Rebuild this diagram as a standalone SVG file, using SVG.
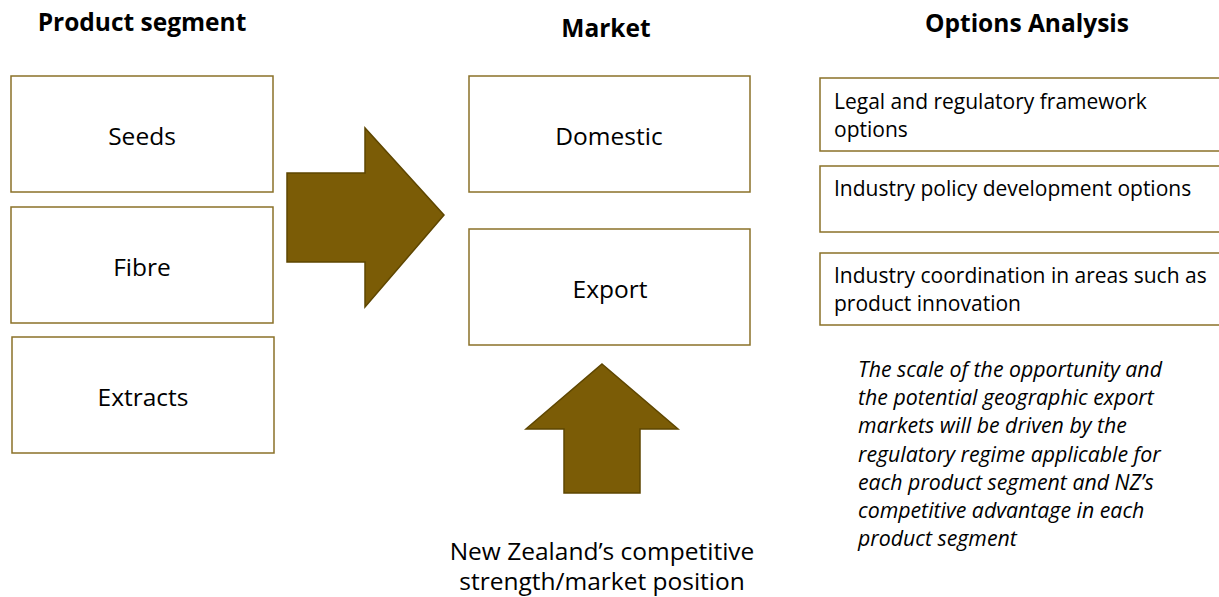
<svg xmlns="http://www.w3.org/2000/svg" width="1219" height="597" viewBox="0 0 1219 597">
<style>
.box{fill:#fff;stroke:#8B7128;stroke-width:1.5}
.arrow{fill:#7B5C06;stroke:#5E4600;stroke-width:1.5}
.t{font-family:"Open Sans","Noto Sans",sans-serif;fill:#000}
.title{font-size:24.5px;font-weight:bold;text-anchor:middle}
.lbl{font-size:24.5px;text-anchor:middle}
.opt{font-size:21px}
.note{font-size:21.3px;font-style:italic}
</style>
<rect width="1219" height="597" fill="#fff"/>
<g id="titles" class="t">
<text class="title" x="142" y="31">Product segment</text>
<text class="title" x="606" y="37">Market</text>
<text class="title" x="1027" y="32">Options Analysis</text>
</g>
<g id="seeds"><rect class="box" x="11" y="76" width="262" height="116"/><text class="t lbl" x="142" y="145">Seeds</text></g>
<g id="fibre"><rect class="box" x="11" y="207" width="262" height="116"/><text class="t lbl" x="142" y="276">Fibre</text></g>
<g id="extracts"><rect class="box" x="12" y="337" width="262" height="116"/><text class="t lbl" x="143" y="406">Extracts</text></g>
<g id="domestic"><rect class="box" x="469" y="76" width="281" height="116"/><text class="t lbl" x="609" y="145">Domestic</text></g>
<g id="export"><rect class="box" x="469" y="229" width="281" height="116"/><text class="t lbl" x="610" y="298">Export</text></g>
<g id="opt-legal"><rect class="box" x="820" y="78" width="410" height="73"/><text class="t opt" x="834" y="109">Legal and regulatory framework</text><text class="t opt" x="834" y="137">options</text></g>
<g id="opt-policy"><rect class="box" x="820" y="166" width="410" height="66"/><text class="t opt" x="834" y="196">Industry policy development options</text></g>
<g id="opt-coord"><rect class="box" x="820" y="253" width="410" height="72"/><text class="t opt" x="834" y="283">Industry coordination in areas such as</text><text class="t opt" x="834" y="311">product innovation</text></g>
<g id="note" class="t note">
<text x="858" y="377">The scale of the opportunity and</text>
<text x="858" y="405">the potential geographic export</text>
<text x="858" y="433">markets will be driven by the</text>
<text x="858" y="462">regulatory regime applicable for</text>
<text x="858" y="490">each product segment and NZ’s</text>
<text x="858" y="518">competitive advantage in each</text>
<text x="858" y="546">product segment</text>
</g>
<g id="nz-strength" class="t lbl">
<text x="602" y="560">New Zealand’s competitive</text>
<text x="602" y="590">strength/market position</text>
</g>
<g id="connectors">
<polygon class="arrow" points="287,173 365,173 365,128 444,215 365,307 365,262 287,262"/>
<polygon class="arrow" points="602,364 678,429 640,429 640,493 564,493 564,429 526,429"/>
</g>
</svg>
